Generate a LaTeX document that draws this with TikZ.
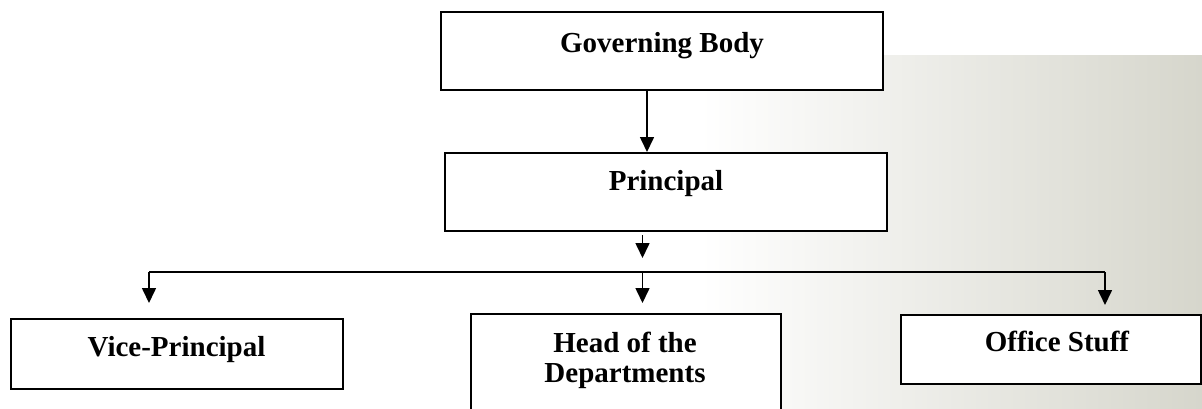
\documentclass[tikz,border=0pt]{standalone}
\usepackage{fontspec}
\setmainfont{Liberation Serif}
\usetikzlibrary{arrows.meta}
\definecolor{bggray}{RGB}{214,214,204}
\tikzset{
  box/.style={draw=black, line width=2pt, fill=white, rectangle, inner sep=0pt},
  lbl/.style={inner sep=0pt, font=\fontsize{29}{30}\selectfont\bfseries, align=center},
  arr/.style={line width=1.6pt, -{Triangle[width=14pt,length=15pt]}},
  bus/.style={line width=1.6pt}
}
\begin{document}
\begin{tikzpicture}[x=1pt,y=-1pt]
\useasboundingbox (0,0) rectangle (1202,408);
\clip (0,0) rectangle (1202,408);
% faint background
\shade[left color=white, right color=bggray, shading angle=90] (700,55) rectangle (1202,408);
\fill[white] (0,0) rectangle (1202,55);
% boxes
\node[box, minimum width=442pt, minimum height=78pt] (gb) at (662,51) {};
\node[lbl, anchor=base] (gbt) at (662,52) {Governing Body};
\node[box, minimum width=442pt, minimum height=78pt] (pr) at (666,192) {};
\node[lbl, anchor=base] (prt) at (666,190) {Principal};
\node[box, minimum width=332pt, minimum height=70pt] (vp) at (177,353.7) {};
\node[lbl, anchor=base] (vpt) at (176.5,356.7) {Vice-Principal};
\node[box, minimum width=310pt, minimum height=110pt] (hd) at (625.7,369.3) {};
\node[lbl, anchor=base] (hdt1) at (625,352) {Head of the};
\node[lbl, anchor=base] (hdt2) at (625,382) {Departments};
\node[box, minimum width=300pt, minimum height=69pt] (os) at (1051,349.5) {};
\node[lbl, anchor=base] (ost) at (1057,351.7) {Office Stuff};
% connectors
\coordinate (p1) at (642.5,258);
\coordinate (bl) at (149,272);
\coordinate (bm) at (642.5,272);
\coordinate (br) at (1105,272);
\coordinate (tl) at (149,303);
\coordinate (tm) at (642.5,303);
\coordinate (tr) at (1105,305);
\draw[arr] ([xshift=-15pt]gb.south) -- ([xshift=-19pt]pr.north);
\draw[arr] ([xshift=-23.5pt,yshift=-3pt]pr.south) -- (p1);
\draw[bus] (bl) -- (br);
\draw[arr] (bl) -- (tl);
\draw[arr] (bm) -- (tm);
\draw[arr] (br) -- (tr);
\end{tikzpicture}
\end{document}
